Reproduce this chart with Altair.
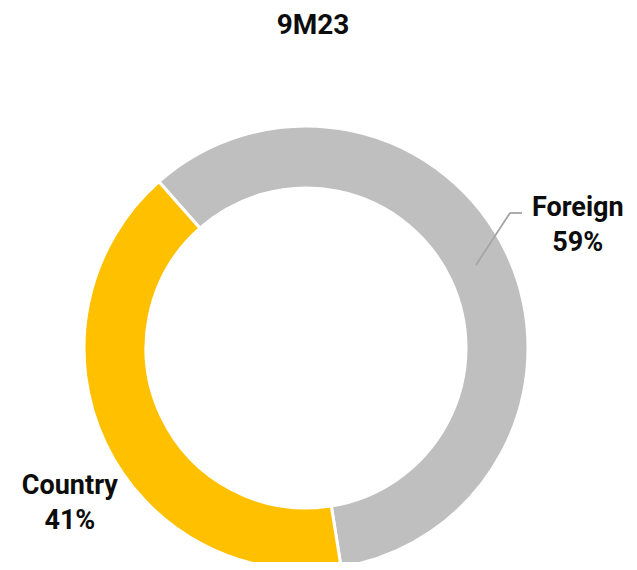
import math
import altair as alt
import pandas as pd

categories = ["Foreign", "Country"]
shares = [59, 41]
labels = [["Foreign", "59%"], ["Country", "41%"]]
colors = ["#BFBFBF", "#FFC000"]
title_text = ["9M23"]

df = pd.DataFrame({
    "cat": categories,
    "share": shares,
    "label": labels,
    "order": [0, 1],
})
df_title = pd.DataFrame({"t": title_text})

start = -41.5 * math.pi / 180
theta_scale = alt.Scale(domain=[0, 100], range=[start, start + 2 * math.pi])

CX, CY = 298, 340

arcs = alt.Chart(df).mark_arc(
    outerRadius=222, innerRadius=160, stroke="white", strokeWidth=3
).encode(
    theta=alt.Theta("share:Q", stack=True, scale=theta_scale),
    order=alt.Order("order:O"),
    color=alt.Color("cat:N", scale=alt.Scale(domain=categories, range=colors), legend=None),
    x=alt.value(CX),
    y=alt.value(CY),
)

lab_base = alt.Chart(df).transform_window(
    cum="sum(share)", sort=[alt.SortField("order")]
).transform_calculate(
    mid="datum.cum - datum.share / 2"
)

txt_kw = dict(font="Roboto", fontSize=27, fontWeight="bold", color="#0d0d0d",
              align="center", baseline="middle", lineHeight=35)

t_foreign = lab_base.transform_filter(alt.datum.cat == "Foreign").mark_text(
    radius=305, dx=-4, dy=-10, **txt_kw
).encode(
    theta=alt.Theta("mid:Q", scale=theta_scale, stack=None),
    text="label", x=alt.value(CX), y=alt.value(CY)
)

t_country = lab_base.transform_filter(alt.datum.cat == "Country").mark_text(
    radius=280, dx=17, dy=18, **txt_kw
).encode(
    theta=alt.Theta("mid:Q", scale=theta_scale, stack=None),
    text="label", x=alt.value(CX), y=alt.value(CY)
)

leader1 = alt.Chart(df).mark_rule(color="#A6A6A6", strokeWidth=1.5).encode(
    x=alt.value(468), y=alt.value(257), x2=alt.value(502), y2=alt.value(205)
)
leader2 = alt.Chart(df).mark_rule(color="#A6A6A6", strokeWidth=1.5).encode(
    x=alt.value(502), y=alt.value(205), x2=alt.value(514), y2=alt.value(205)
)

title = alt.Chart(df_title).mark_text(
    font="Roboto", fontSize=28, fontWeight="bold", color="#0d0d0d",
    align="center", baseline="alphabetic"
).encode(text="t:N", x=alt.value(305), y=alt.value(26))

chart = alt.layer(arcs, leader1, leader2, t_foreign, t_country, title).properties(
    width=621, height=554,
    padding=0,
    autosize=alt.AutoSizeParams(type="none"),
).configure_view(stroke=None)

chart.save("out.html", embed_options={"renderer": "svg", "actions": False})
